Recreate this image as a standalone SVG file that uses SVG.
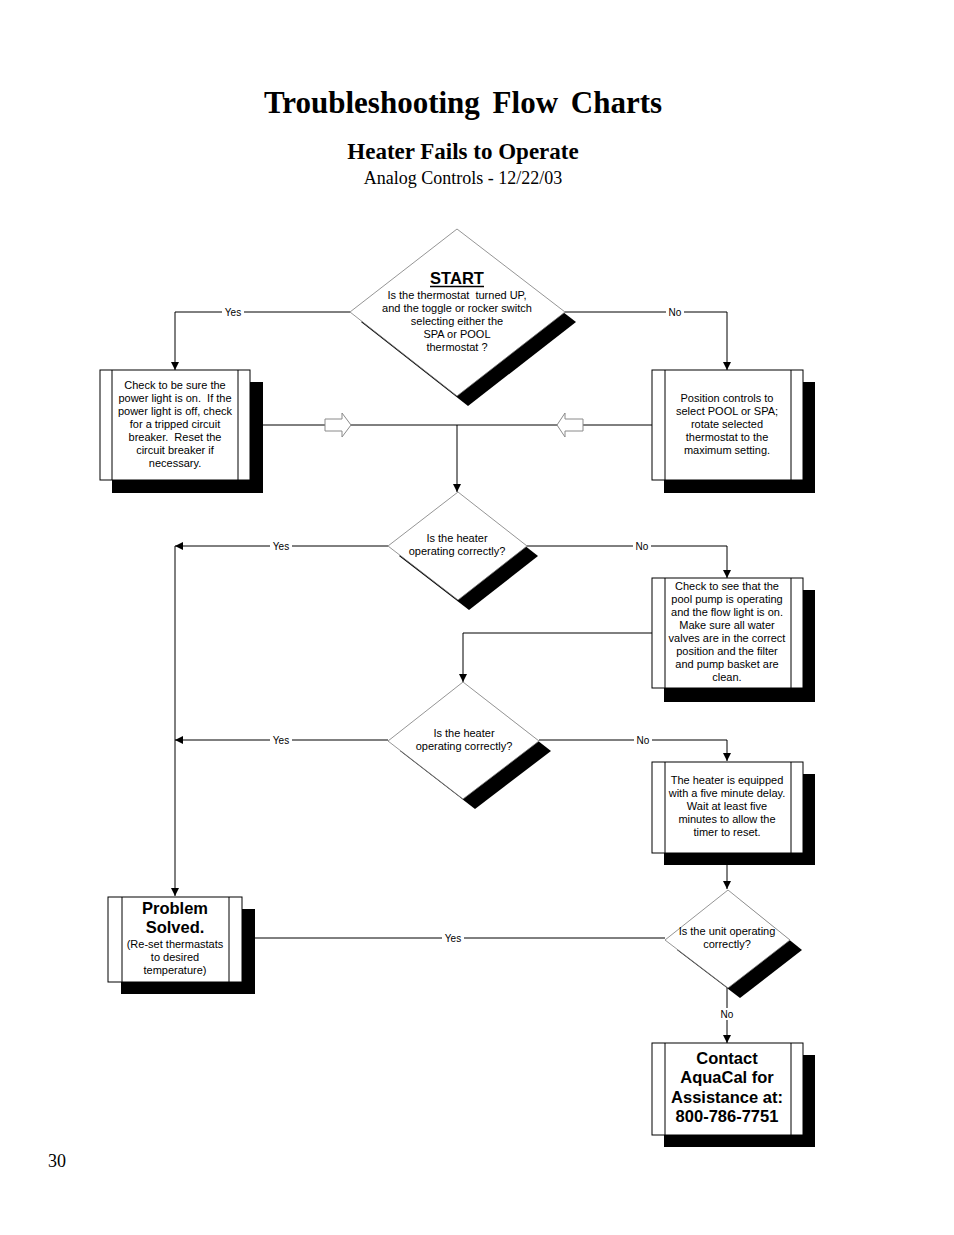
<svg xmlns="http://www.w3.org/2000/svg" width="954" height="1235" viewBox="0 0 954 1235">
<defs>
<style>
.t{font-family:"Liberation Sans",Arial,sans-serif;font-size:11px;fill:#000;text-anchor:middle;white-space:pre}
.b{font-family:"Liberation Sans",Arial,sans-serif;font-size:16.5px;font-weight:bold;fill:#000;text-anchor:middle}
.lbl{font-family:"Liberation Sans",Arial,sans-serif;font-size:10px;fill:#000;text-anchor:middle}
.ser{font-family:"Liberation Serif","Times New Roman",serif;fill:#000;text-anchor:middle}
.c{fill:none;stroke:#000;stroke-width:1}
.dia{fill:#fff;stroke:#7a7a7a;stroke-width:0.8}
.sh{fill:#000}
.box{fill:#fff;stroke:#000;stroke-width:1}
.in{stroke:#000;stroke-width:1}
.blk{fill:#fff;stroke:#8a8a8a;stroke-width:1}
.lb{fill:#fff}
</style>
<marker id="ah" viewBox="0 0 10 10" refX="10" refY="5" markerWidth="8" markerHeight="8" markerUnits="userSpaceOnUse" orient="auto">
<path d="M0,0 L10,5 L0,10 Z" fill="#000"/>
</marker>
</defs>
<rect width="954" height="1235" fill="#fff"/>

<g id="titles">
<text class="ser" x="463" y="113" font-size="31" font-weight="bold" word-spacing="5">Troubleshooting Flow Charts</text>
<text class="ser" x="463" y="159" font-size="23" font-weight="bold">Heater Fails to Operate</text>
<text class="ser" x="463" y="184" font-size="18">Analog Controls - 12/22/03</text>
<text class="ser" x="57" y="1167" font-size="18">30</text>
</g>

<g id="connectors">
<path class="c" d="M350,312 H175 V370" marker-end="url(#ah)"/>
<path class="c" d="M565,312 H727 V370" marker-end="url(#ah)"/>
<path class="c" d="M250,425 H652"/>
<path class="c" d="M457,425 V492" marker-end="url(#ah)"/>
<path class="blk" d="M325,419 H342 V413 L351,425 L342,437 V431 H325 Z"/>
<path class="blk" d="M583,419 H565 V413 L557,425 L565,437 V431 H583 Z"/>
<path class="c" d="M388,546 H175" marker-end="url(#ah)"/>
<path class="c" d="M175,546 V896" marker-end="url(#ah)"/>
<path class="c" d="M527,546 H727 V578" marker-end="url(#ah)"/>
<path class="c" d="M652,633 H463 V682" marker-end="url(#ah)"/>
<path class="c" d="M388,740 H175" marker-end="url(#ah)"/>
<path class="c" d="M539,740 H727 V761" marker-end="url(#ah)"/>
<path class="c" d="M727,853 V889" marker-end="url(#ah)"/>
<path class="c" d="M665,938 H242"/>
<path class="c" d="M727,988 V1043" marker-end="url(#ah)"/>
<rect class="lb" x="222" y="306" width="22" height="12"/><text class="lbl" x="233" y="315.5">Yes</text>
<rect class="lb" x="666" y="306" width="18" height="12"/><text class="lbl" x="675" y="315.5">No</text>
<rect class="lb" x="270" y="540" width="22" height="12"/><text class="lbl" x="281" y="549.5">Yes</text>
<rect class="lb" x="633" y="540" width="18" height="12"/><text class="lbl" x="642" y="549.5">No</text>
<rect class="lb" x="270" y="734" width="22" height="12"/><text class="lbl" x="281" y="743.5">Yes</text>
<rect class="lb" x="634" y="734" width="18" height="12"/><text class="lbl" x="643" y="743.5">No</text>
<rect class="lb" x="442" y="932" width="22" height="12"/><text class="lbl" x="453" y="941.5">Yes</text>
<rect class="lb" x="718" y="1008" width="18" height="12"/><text class="lbl" x="727" y="1017.5">No</text>
</g>

<g id="start">
<polygon class="sh" points="468,239 576,322 468,406 361,322"/>
<polygon class="dia" points="457,229 565,312 457,396 350,312"/>
<text class="b" x="457" y="284" font-size="16">START</text>
<line x1="430" y1="286.5" x2="484" y2="286.5" stroke="#000" stroke-width="1.3"/>
<text class="t" x="457" y="299" xml:space="preserve">Is the thermostat  turned UP,</text>
<text class="t" x="457" y="312">and the toggle or rocker switch</text>
<text class="t" x="457" y="325">selecting either the</text>
<text class="t" x="457" y="338">SPA or POOL</text>
<text class="t" x="457" y="351">thermostat ?</text>
</g>

<g id="box-power">
<rect class="sh" x="112" y="382" width="151" height="111"/>
<rect class="box" x="100" y="370" width="150" height="110"/>
<line class="in" x1="112" y1="370" x2="112" y2="480"/>
<line class="in" x1="238" y1="370" x2="238" y2="480"/>
<text class="t" x="175" y="389">Check to be sure the</text>
<text class="t" x="175" y="402" xml:space="preserve">power light is on.  If the</text>
<text class="t" x="175" y="415">power light is off, check</text>
<text class="t" x="175" y="428">for a tripped circuit</text>
<text class="t" x="175" y="441" xml:space="preserve">breaker.  Reset the</text>
<text class="t" x="175" y="454">circuit breaker if</text>
<text class="t" x="175" y="467">necessary.</text>
</g>

<g id="box-position">
<rect class="sh" x="664" y="382" width="151" height="111"/>
<rect class="box" x="652" y="370" width="151" height="110"/>
<line class="in" x1="665" y1="370" x2="665" y2="480"/>
<line class="in" x1="791" y1="370" x2="791" y2="480"/>
<text class="t" x="727" y="402">Position controls to</text>
<text class="t" x="727" y="415">select POOL or SPA;</text>
<text class="t" x="727" y="428">rotate selected</text>
<text class="t" x="727" y="441">thermostat to the</text>
<text class="t" x="727" y="454">maximum setting.</text>
</g>

<g id="decision-heater-1">
<polygon class="sh" points="469,502 538,556 469,610 399,556"/>
<polygon class="dia" points="458,492 527,546 458,600 388,546"/>
<text class="t" x="457" y="542">Is the heater</text>
<text class="t" x="457" y="555">operating correctly?</text>
</g>

<g id="box-pump">
<rect class="sh" x="664" y="590" width="151" height="112"/>
<rect class="box" x="652" y="578" width="151" height="110"/>
<line class="in" x1="665" y1="578" x2="665" y2="688"/>
<line class="in" x1="791" y1="578" x2="791" y2="688"/>
<text class="t" x="727" y="590">Check to see that the</text>
<text class="t" x="727" y="603">pool pump is operating</text>
<text class="t" x="727" y="616">and the flow light is on.</text>
<text class="t" x="727" y="629">Make sure all water</text>
<text class="t" x="727" y="642">valves are in the correct</text>
<text class="t" x="727" y="655">position and the filter</text>
<text class="t" x="727" y="668">and pump basket are</text>
<text class="t" x="727" y="681">clean.</text>
</g>

<g id="decision-heater-2">
<polygon class="sh" points="475,692 551,751 475,809 400,751"/>
<polygon class="dia" points="463,682 539,741 463,799 388,741"/>
<text class="t" x="464" y="737">Is the heater</text>
<text class="t" x="464" y="750">operating correctly?</text>
</g>

<g id="box-delay">
<rect class="sh" x="664" y="774" width="151" height="91"/>
<rect class="box" x="652" y="762" width="151" height="91"/>
<line class="in" x1="665" y1="762" x2="665" y2="853"/>
<line class="in" x1="791" y1="762" x2="791" y2="853"/>
<text class="t" x="727" y="784">The heater is equipped</text>
<text class="t" x="727" y="797">with a five minute delay.</text>
<text class="t" x="727" y="810">Wait at least five</text>
<text class="t" x="727" y="823">minutes to allow the</text>
<text class="t" x="727" y="836">timer to reset.</text>
</g>

<g id="decision-unit">
<polygon class="sh" points="740,900 802,950 740,998 677,950"/>
<polygon class="dia" points="728,890 790,940 728,988 665,940"/>
<text class="t" x="727" y="935">Is the unit operating</text>
<text class="t" x="727" y="948">correctly?</text>
</g>

<g id="box-solved">
<rect class="sh" x="121" y="909" width="134" height="85"/>
<rect class="box" x="108" y="897" width="134" height="85"/>
<line class="in" x1="122" y1="897" x2="122" y2="982"/>
<line class="in" x1="229" y1="897" x2="229" y2="982"/>
<text class="b" x="175" y="914">Problem</text>
<text class="b" x="175" y="933">Solved.</text>
<text class="t" x="175" y="948">(Re-set thermastats</text>
<text class="t" x="175" y="961">to desired</text>
<text class="t" x="175" y="974">temperature)</text>
</g>

<g id="box-contact">
<rect class="sh" x="664" y="1055" width="151" height="92"/>
<rect class="box" x="652" y="1043" width="151" height="92"/>
<line class="in" x1="665" y1="1043" x2="665" y2="1135"/>
<line class="in" x1="791" y1="1043" x2="791" y2="1135"/>
<text class="b" x="727" y="1064">Contact</text>
<text class="b" x="727" y="1083">AquaCal for</text>
<text class="b" x="727" y="1103">Assistance at:</text>
<text class="b" x="727" y="1122">800-786-7751</text>
</g>
</svg>
